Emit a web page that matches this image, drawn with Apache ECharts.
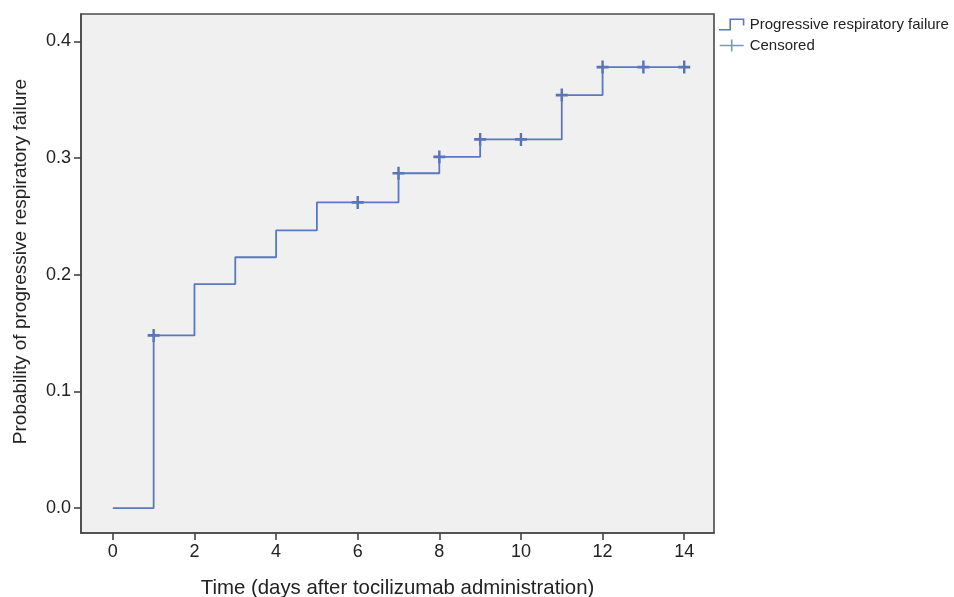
<!DOCTYPE html>
<html>
<head>
<meta charset="utf-8">
<script src="https://cdn.jsdelivr.net/npm/echarts@6/dist/echarts.min.js"></script>
<style>html,body{margin:0;padding:0;background:#fff;}#c{width:954px;height:597px;}</style>
</head>
<body>
<div id="c"></div>
<script>
// Kaplan-Meier cumulative incidence steps
const stepDays = [0, 1, 2, 3, 4, 5, 7, 8, 9, 11, 12, 14];
const stepProb = [0, 0.148, 0.192, 0.215, 0.238, 0.262, 0.287, 0.301, 0.316, 0.354, 0.378, 0.378];
// Censored observations
const censorDays = [1, 6, 7, 8, 9, 10, 11, 12, 13, 14];
const censorProb = [0.148, 0.262, 0.287, 0.301, 0.316, 0.316, 0.354, 0.378, 0.378, 0.378];
// Tick labels
const xTicks = [0, 2, 4, 6, 8, 10, 12, 14];
const yTicks = [0, 0.1, 0.2, 0.3, 0.4];

const seriesName = 'Progressive respiratory failure';
const censorName = 'Censored';
const lineColor = '#5a78c0';
const crossColor = '#3451a3';
const plusPath = 'path://M4,0H6V4H10V6H6V10H4V6H0V4H4Z';
const plusLegend = 'path://M0,5.3H11.2V0H12.8V5.3H24V6.7H12.8V12H11.2V6.7H0Z';
const stepIcon = 'path://M0,10H9V1H22V7H20.6V2.4H10.4V11.4H0Z';
const font = 'Liberation Sans, Arial, sans-serif';

const chart = echarts.init(document.getElementById('c'));
chart.setOption({
  animation: false,
  backgroundColor: '#ffffff',
  textStyle: { fontFamily: font },
  grid: {
    left: 81, right: 240, top: 14, bottom: 64,
    outerBoundsMode: 'none', containLabel: false,
    show: true, backgroundColor: '#f0f0f0', borderColor: '#4a4a4a', borderWidth: 1.6
  },
  legend: {
    left: 714, top: 12, orient: 'vertical', itemWidth: 26, itemHeight: 12, itemGap: 6,
    textStyle: { fontSize: 15, color: '#222', fontFamily: font },
    data: [
      { name: seriesName, icon: stepIcon, itemStyle: { color: lineColor } },
      { name: censorName, icon: plusLegend, itemStyle: { color: lineColor } }
    ]
  },
  xAxis: {
    type: 'value', min: -0.78, max: 14.73,
    name: 'Time (days after tocilizumab administration)',
    nameLocation: 'middle', nameGap: 45,
    nameTextStyle: { fontSize: 20.4, color: '#222', fontFamily: font },
    axisLine: { show: true, onZero: false, lineStyle: { color: '#4a4a4a', width: 1.6 } },
    axisTick: { show: true, inside: false, length: 7, customValues: xTicks, lineStyle: { color: '#444', width: 1.6 } },
    axisLabel: { customValues: xTicks, fontSize: 18, color: '#222', margin: 10, fontFamily: font },
    splitLine: { show: false }
  },
  yAxis: {
    type: 'value', min: -0.0214, max: 0.4235,
    name: 'Probability of progressive respiratory failure',
    nameLocation: 'middle', nameGap: 51,
    nameTextStyle: { fontSize: 19, color: '#222', fontFamily: font, padding: [0, 0, 0, 24] },
    axisLine: { show: true, onZero: false, lineStyle: { color: '#4a4a4a', width: 1.6 } },
    axisTick: { show: true, inside: false, length: 7, customValues: yTicks, lineStyle: { color: '#444', width: 1.6 } },
    axisLabel: { customValues: yTicks, fontSize: 18, color: '#222', margin: 10, fontFamily: font,
      formatter: v => v.toFixed(1) },
    splitLine: { show: false }
  },
  series: [
    {
      name: seriesName, type: 'line', step: 'end', showSymbol: false, symbol: 'none',
      lineStyle: { color: lineColor, width: 1.8 }, itemStyle: { color: lineColor },
      data: stepDays.map((d, i) => [d, stepProb[i]])
    },
    {
      name: censorName, type: 'scatter', symbol: plusPath, symbolSize: [12, 13],
      itemStyle: { color: crossColor },
      data: censorDays.map((d, i) => [d, censorProb[i]])
    }
  ]
});
</script>
</body>
</html>
